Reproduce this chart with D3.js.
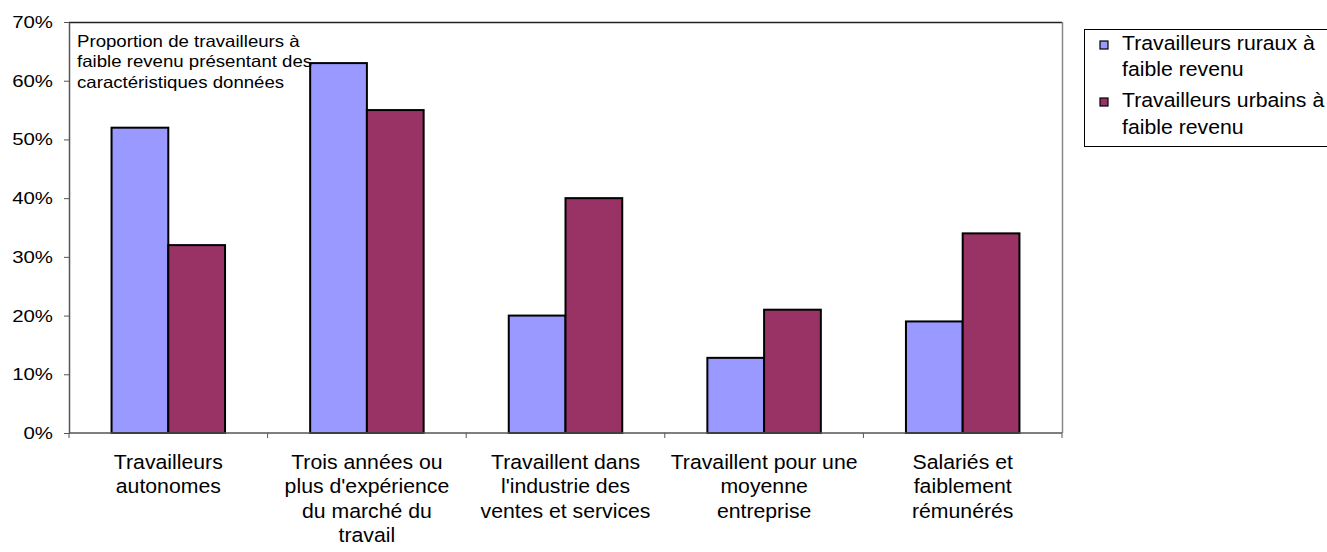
<!DOCTYPE html>
<html><head><meta charset="utf-8">
<script src="https://cdn.jsdelivr.net/npm/d3@7"></script>
<style>body{margin:0;background:#fff}svg{display:block}text{font-family:"Liberation Sans",Arial,sans-serif}</style>
</head><body>
<svg id="c" width="1327" height="552"></svg>
<script>
const categories = [
  ["Travailleurs","autonomes"],
  ["Trois années ou","plus d'expérience","du marché du","travail"],
  ["Travaillent dans","l'industrie des","ventes et services"],
  ["Travaillent pour une","moyenne","entreprise"],
  ["Salariés et","faiblement","rémunérés"]
];
const seriesNames = [["Travailleurs ruraux à","faible revenu"],["Travailleurs urbains à","faible revenu"]];
const rural = [52, 63, 20, 12.8, 19];
const urbain = [32, 55, 40, 21, 34];
const colors = ["#9999FF", "#993366"];
const yTicks = [0,10,20,30,40,50,60,70];
const note = ["Proportion de travailleurs à","faible revenu présentant des","caractéristiques données"];

const svg = d3.select("#c");
const L=69, R=1062, T=22, B=433;
const x = d3.scaleBand().domain(d3.range(categories.length)).range([L,R]).paddingInner(0).paddingOuter(0);
const inner = d3.scaleBand().domain([0,1]).range([0, x.bandwidth()]).paddingInner(0).paddingOuter(0.75);
const y = d3.scaleLinear().domain([0,70]).range([B,T]);

function stext(g, tx, ty, str, size, sx, anchor){
  return g.append("text").attr("transform",`translate(${tx},${ty}) scale(${sx},1)`)
    .attr("text-anchor",anchor||"start").attr("font-size",size).attr("fill","#000").text(str);
}

// plot border top & right
svg.append("line").attr("x1",L).attr("x2",R).attr("y1",T+0.5).attr("y2",T+0.5).attr("stroke","#222").attr("stroke-width",1.5);
svg.append("line").attr("x1",R+0.5).attr("x2",R+0.5).attr("y1",T).attr("y2",B).attr("stroke","#888").attr("stroke-width",1.5);

// bars
const data = [rural, urbain];
data.forEach((vals,s)=>{
  svg.append("g").selectAll("rect").data(vals).join("rect")
    .attr("x",(d,i)=>x(i)+inner(s))
    .attr("y",d=>y(d))
    .attr("width",inner.bandwidth())
    .attr("height",d=>B-y(d))
    .attr("fill",colors[s]).attr("stroke","#000").attr("stroke-width",2);
});

// y axis
const ya = svg.append("g").attr("transform",`translate(${L},0)`)
  .call(d3.axisLeft(y).tickValues(yTicks).tickFormat(d=>d+"%").tickSize(5).tickSizeOuter(0));
ya.select(".domain").attr("stroke","#555").attr("stroke-width",1.5);
ya.selectAll(".tick line").attr("stroke","#555");
ya.selectAll(".tick text").remove();
yTicks.forEach(v=>stext(svg, 53, y(v)+6, v+"%", 17, 1.2, "end"));

// x axis
const xa = svg.append("g").attr("transform",`translate(0,${B})`);
xa.append("line").attr("x1",L).attr("x2",R).attr("stroke","#555").attr("stroke-width",1.5);
xa.selectAll("line.t").data(d3.range(categories.length+1)).join("line").attr("class","t")
  .attr("x1",i=>i<categories.length?x(i):R).attr("x2",i=>i<categories.length?x(i):R)
  .attr("y1",0).attr("y2",5).attr("stroke","#555");
categories.forEach((lines,i)=>{
  lines.forEach((l,k)=>stext(svg, x(i)+x.bandwidth()/2, 469+k*24.3, l, 19.5, 1.09, "middle"));
});

// note
note.forEach((l,k)=>stext(svg, 77, 46.5+k*20.5, l, 16.5, 1.13, "start"));

// legend
svg.append("rect").attr("x",1084.5).attr("y",29.5).attr("width",260).attr("height",117).attr("fill","#fff").attr("stroke","#000").attr("stroke-width",1);
const legBase = [[50,76],[107,134]];
seriesNames.forEach((lines,s)=>{
  svg.append("rect").attr("x",1100).attr("y",legBase[s][0]-9).attr("width",8).attr("height",8).attr("fill",colors[s]).attr("stroke","#000").attr("stroke-width",1.2);
  lines.forEach((l,k)=>stext(svg, 1122, legBase[s][k], l, 19.5, 1.09, "start"));
});
</script>
</body></html>
